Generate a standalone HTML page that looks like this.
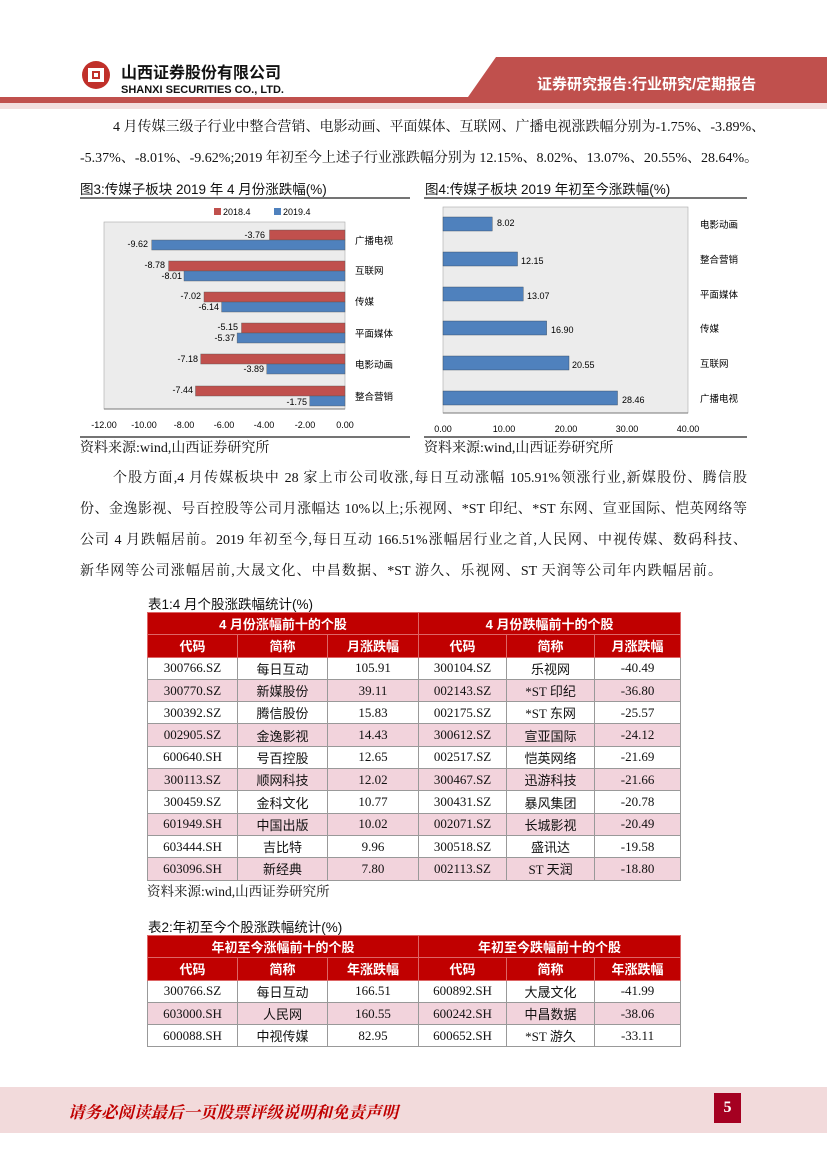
<!DOCTYPE html>
<html><head><meta charset="utf-8"><style>
*{margin:0;padding:0;box-sizing:border-box}
body{width:827px;height:1169px;position:relative;background:#fff;font-family:"Liberation Serif","Noto Serif CJK SC",serif;color:#111;overflow:hidden}
.a{position:absolute}
.ln{position:absolute;font-size:14px;white-space:nowrap;text-align:justify;text-align-last:justify;height:18px;line-height:18px}
.cap{position:absolute;font-family:"Liberation Sans","Noto Sans CJK SC",sans-serif;font-size:13.5px;white-space:nowrap}
table{position:absolute;border-collapse:collapse;font-size:13px;table-layout:fixed}
td{border:1px solid #999;text-align:center;height:22.3px;padding:0;white-space:nowrap;font-family:"Liberation Serif","Noto Sans CJK SC",serif}
tr.h td{background:#c00000;color:#fff;font-weight:bold;font-family:"Liberation Sans","Noto Sans CJK SC",sans-serif;border-color:#d66}
tr.p td{background:#f2d3dc}
svg text{font-family:"Liberation Sans","Noto Sans CJK SC",sans-serif}
</style></head><body>
<svg class="a" style="left:0;top:0" width="827" height="112">
<polygon points="496,57 827,57 827,97 468,97" fill="#c0504d"/>
<rect x="0" y="97" width="827" height="6" fill="#c0504d"/>
<rect x="0" y="103" width="827" height="6" fill="#f3dede"/>
<circle cx="96" cy="75" r="14" fill="#c0302a"/>
<rect x="88" y="68" width="16" height="14" fill="#fff"/>
<rect x="92" y="71" width="8" height="8" fill="#c0302a"/>
<rect x="94" y="73" width="4" height="4" fill="#fff"/>
<text x="121" y="78" font-size="16" font-weight="bold" fill="#111">山西证券股份有限公司</text>
<text x="121" y="93" font-size="11" font-weight="bold" fill="#111">SHANXI SECURITIES CO., LTD.</text>
<text x="537" y="89" font-size="15" font-weight="bold" fill="#fff">证券研究报告:行业研究/定期报告</text>
</svg>
<div class="ln" style="left:113px;top:119px;width:634px">4 月传媒三级子行业中整合营销、电影动画、平面媒体、互联网、广播电视涨跌幅分别为-1.75%、-3.89%、</div>
<div class="ln" style="left:80px;top:150px;width:667px">-5.37%、-8.01%、-9.62%;2019 年初至今上述子行业涨跌幅分别为 12.15%、8.02%、13.07%、20.55%、28.64%。</div>
<div class="cap" style="left:80px;top:178px">图3:传媒子板块 2019 年 4 月份涨跌幅(%)</div>
<div class="cap" style="left:425px;top:178px">图4:传媒子板块 2019 年初至今涨跌幅(%)</div>
<svg class="a" style="left:0;top:0" width="827" height="460">
<line x1="80" y1="198" x2="410" y2="198" stroke="#222" stroke-width="1.2"/>
<line x1="80" y1="437" x2="410" y2="437" stroke="#222" stroke-width="1.2"/>
<line x1="424" y1="198" x2="747" y2="198" stroke="#222" stroke-width="1.2"/>
<line x1="424" y1="437" x2="747" y2="437" stroke="#222" stroke-width="1.2"/>
<rect x="214" y="208" width="7" height="7" fill="#c0504d"/><text x="223" y="215" font-size="9">2018.4</text>
<rect x="274" y="208" width="7" height="7" fill="#4f81bd"/><text x="283" y="215" font-size="9">2019.4</text>
<rect x="104" y="222" width="241" height="187" fill="#ececec" stroke="#aaa" stroke-width="0.6"/>
<line x1="104" y1="409" x2="345" y2="409" stroke="#777"/>
<g font-size="9" text-anchor="middle">
<text x="104" y="428">-12.00</text><text x="144" y="428">-10.00</text><text x="184" y="428">-8.00</text><text x="224" y="428">-6.00</text><text x="264" y="428">-4.00</text><text x="305" y="428">-2.00</text><text x="345" y="428">0.00</text>
</g>
<g stroke="#555" stroke-width="0.4">
<rect x="269.5" y="230" width="75.5" height="10" fill="#c0504d"/><rect x="151.7" y="240" width="193.3" height="10" fill="#4f81bd"/>
<rect x="168.6" y="261" width="176.4" height="10" fill="#c0504d"/><rect x="184" y="271" width="161" height="10" fill="#4f81bd"/>
<rect x="204" y="292" width="141" height="10" fill="#c0504d"/><rect x="221.6" y="302" width="123.4" height="10" fill="#4f81bd"/>
<rect x="241.5" y="323" width="103.5" height="10" fill="#c0504d"/><rect x="237.1" y="333" width="107.9" height="10" fill="#4f81bd"/>
<rect x="200.7" y="354" width="144.3" height="10" fill="#c0504d"/><rect x="266.8" y="364" width="78.2" height="10" fill="#4f81bd"/>
<rect x="195.5" y="386" width="149.5" height="10" fill="#c0504d"/><rect x="309.8" y="396" width="35.2" height="10" fill="#4f81bd"/>
</g>
<g font-size="9" text-anchor="end">
<text x="265" y="238">-3.76</text><text x="148" y="247">-9.62</text>
<text x="165" y="268">-8.78</text><text x="182" y="279">-8.01</text>
<text x="201" y="299">-7.02</text><text x="219" y="310">-6.14</text>
<text x="238" y="330">-5.15</text><text x="235" y="341">-5.37</text>
<text x="198" y="362">-7.18</text><text x="264" y="372">-3.89</text>
<text x="193" y="393">-7.44</text><text x="307" y="405">-1.75</text>
</g>
<g font-size="9.5">
<text x="355" y="244">广播电视</text><text x="355" y="274">互联网</text><text x="355" y="305">传媒</text><text x="355" y="337">平面媒体</text><text x="355" y="368">电影动画</text><text x="355" y="400">整合营销</text>
</g>
<rect x="443" y="207" width="245" height="206" fill="#ececec" stroke="#aaa" stroke-width="0.6"/>
<line x1="443" y1="413" x2="688" y2="413" stroke="#777"/>
<g font-size="9" text-anchor="middle">
<text x="443" y="432">0.00</text><text x="504" y="432">10.00</text><text x="566" y="432">20.00</text><text x="627" y="432">30.00</text><text x="688" y="432">40.00</text>
</g>
<g fill="#4f81bd" stroke="#345" stroke-width="0.4">
<rect x="443" y="217" width="49.2" height="14"/>
<rect x="443" y="252" width="74.5" height="14"/>
<rect x="443" y="287" width="80.2" height="14"/>
<rect x="443" y="321" width="103.6" height="14"/>
<rect x="443" y="356" width="126" height="14"/>
<rect x="443" y="391" width="174.5" height="14"/>
</g>
<g font-size="9">
<text x="497" y="226">8.02</text><text x="521" y="264">12.15</text><text x="527" y="299">13.07</text><text x="551" y="333">16.90</text><text x="572" y="368">20.55</text><text x="622" y="403">28.46</text>
</g>
<g font-size="9.5">
<text x="700" y="228">电影动画</text><text x="700" y="263">整合营销</text><text x="700" y="298">平面媒体</text><text x="700" y="332">传媒</text><text x="700" y="367">互联网</text><text x="700" y="402">广播电视</text>
</g>
</svg>
<div class="ln" style="left:80px;top:440px;font-size:14px;text-align:left;text-align-last:left">资料来源:wind,山西证券研究所</div>
<div class="ln" style="left:424px;top:440px;font-size:14px;text-align:left;text-align-last:left">资料来源:wind,山西证券研究所</div>
<div class="ln" style="left:113px;top:470px;width:634px">个股方面,4 月传媒板块中 28 家上市公司收涨,每日互动涨幅 105.91%领涨行业,新媒股份、腾信股</div>
<div class="ln" style="left:80px;top:501px;width:667px">份、金逸影视、号百控股等公司月涨幅达 10%以上;乐视网、*ST 印纪、*ST 东网、宣亚国际、恺英网络等</div>
<div class="ln" style="left:80px;top:532px;width:667px">公司 4 月跌幅居前。2019 年初至今,每日互动 166.51%涨幅居行业之首,人民网、中视传媒、数码科技、</div>
<div class="ln" style="left:80px;top:563px;width:642px">新华网等公司涨幅居前,大晟文化、中昌数据、*ST 游久、乐视网、ST 天润等公司年内跌幅居前。</div>
<div class="cap" style="left:148px;top:593px">表1:4 月个股涨跌幅统计(%)</div>
<table style="left:147px;top:612px;width:533px">
<colgroup><col style="width:90px"><col style="width:90px"><col style="width:91px"><col style="width:88px"><col style="width:88px"><col style="width:86px"></colgroup>
<tr class="h"><td colspan="3">4 月份涨幅前十的个股</td><td colspan="3">4 月份跌幅前十的个股</td></tr>
<tr class="h"><td>代码</td><td>简称</td><td>月涨跌幅</td><td>代码</td><td>简称</td><td>月涨跌幅</td></tr>
<tr><td>300766.SZ</td><td>每日互动</td><td>105.91</td><td>300104.SZ</td><td>乐视网</td><td>-40.49</td></tr>
<tr class="p"><td>300770.SZ</td><td>新媒股份</td><td>39.11</td><td>002143.SZ</td><td>*ST 印纪</td><td>-36.80</td></tr>
<tr><td>300392.SZ</td><td>腾信股份</td><td>15.83</td><td>002175.SZ</td><td>*ST 东网</td><td>-25.57</td></tr>
<tr class="p"><td>002905.SZ</td><td>金逸影视</td><td>14.43</td><td>300612.SZ</td><td>宣亚国际</td><td>-24.12</td></tr>
<tr><td>600640.SH</td><td>号百控股</td><td>12.65</td><td>002517.SZ</td><td>恺英网络</td><td>-21.69</td></tr>
<tr class="p"><td>300113.SZ</td><td>顺网科技</td><td>12.02</td><td>300467.SZ</td><td>迅游科技</td><td>-21.66</td></tr>
<tr><td>300459.SZ</td><td>金科文化</td><td>10.77</td><td>300431.SZ</td><td>暴风集团</td><td>-20.78</td></tr>
<tr class="p"><td>601949.SH</td><td>中国出版</td><td>10.02</td><td>002071.SZ</td><td>长城影视</td><td>-20.49</td></tr>
<tr><td>603444.SH</td><td>吉比特</td><td>9.96</td><td>300518.SZ</td><td>盛讯达</td><td>-19.58</td></tr>
<tr class="p"><td>603096.SH</td><td>新经典</td><td>7.80</td><td>002113.SZ</td><td>ST 天润</td><td>-18.80</td></tr>
</table>
<div class="ln" style="left:147px;top:883px;font-size:13.5px;text-align:left;text-align-last:left">资料来源:wind,山西证券研究所</div>
<div class="cap" style="left:148px;top:916px">表2:年初至今个股涨跌幅统计(%)</div>
<table style="left:147px;top:935px;width:533px">
<colgroup><col style="width:90px"><col style="width:90px"><col style="width:91px"><col style="width:88px"><col style="width:88px"><col style="width:86px"></colgroup>
<tr class="h"><td colspan="3">年初至今涨幅前十的个股</td><td colspan="3">年初至今跌幅前十的个股</td></tr>
<tr class="h"><td>代码</td><td>简称</td><td>年涨跌幅</td><td>代码</td><td>简称</td><td>年涨跌幅</td></tr>
<tr><td>300766.SZ</td><td>每日互动</td><td>166.51</td><td>600892.SH</td><td>大晟文化</td><td>-41.99</td></tr>
<tr class="p"><td>603000.SH</td><td>人民网</td><td>160.55</td><td>600242.SH</td><td>中昌数据</td><td>-38.06</td></tr>
<tr><td>600088.SH</td><td>中视传媒</td><td>82.95</td><td>600652.SH</td><td>*ST 游久</td><td>-33.11</td></tr>
</table>
<div class="a" style="left:0;top:1087px;width:827px;height:46px;background:#f2dadb"></div>
<div class="a" style="left:68px;top:1099px;font-size:16.5px;font-weight:bold;color:#c00000;font-style:italic;font-family:'Noto Serif CJK SC',serif;white-space:nowrap">请务必阅读最后一页股票评级说明和免责声明</div>
<div class="a" style="left:714px;top:1093px;width:27px;height:30px;background:#a50021;color:#fff;font-size:16px;font-weight:bold;text-align:center;line-height:30px">5</div>
</body></html>
